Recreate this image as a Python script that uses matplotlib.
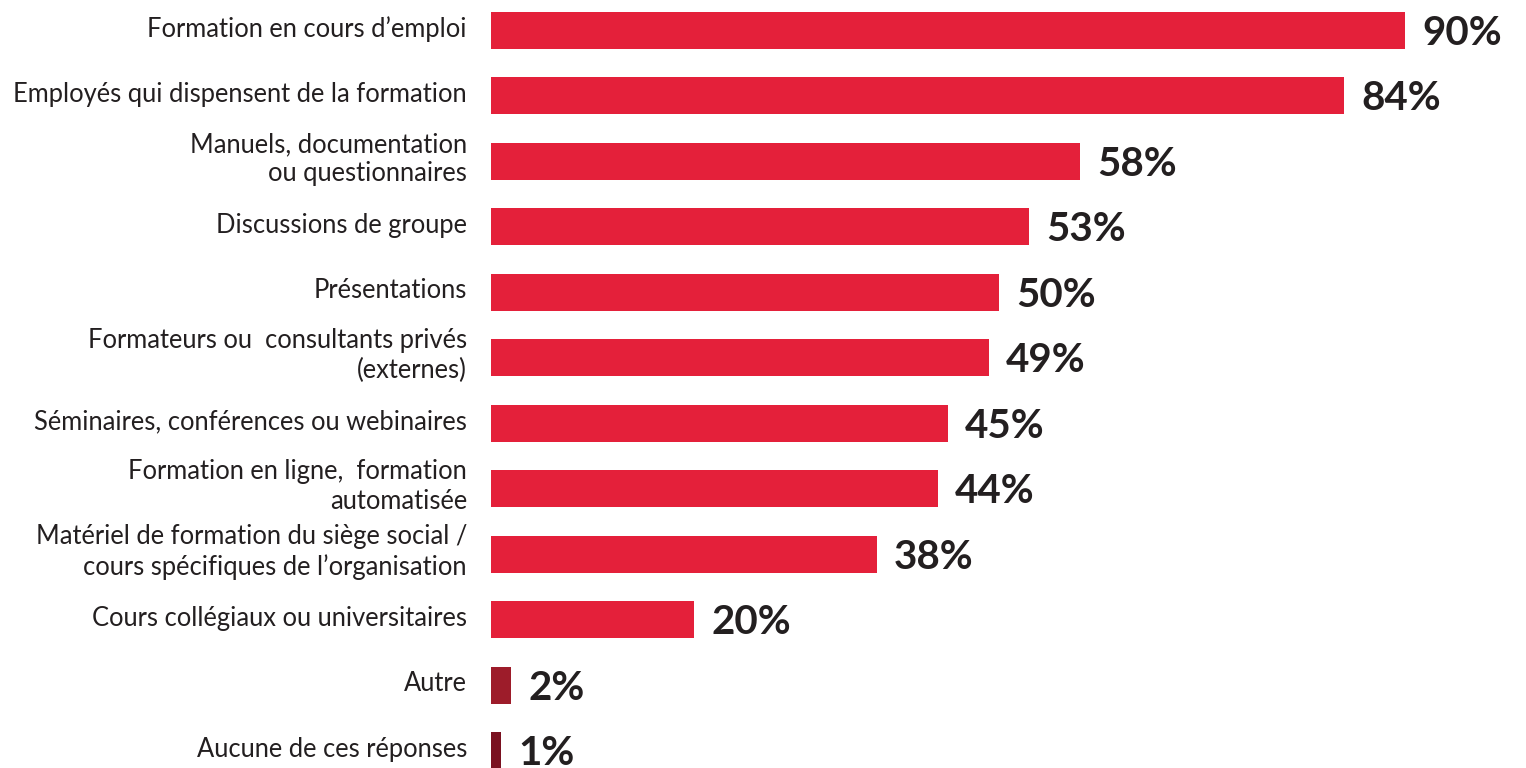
import matplotlib.pyplot as plt

# training methods and share of respondents
categories = [
    "Formation en cours d\u2019emploi",
    "Employés qui dispensent de la formation",
    "Manuels, documentation\nou questionnaires",
    "Discussions de groupe",
    "Présentations",
    "Formateurs ou  consultants privés\n(externes)",
    "Séminaires, conférences ou webinaires",
    "Formation en ligne,  formation\nautomatisée",
    "Matériel de formation du siège social /\ncours spécifiques de l\u2019organisation",
    "Cours collégiaux ou universitaires",
    "Autre",
    "Aucune de ces réponses",
]
values = [90, 84, 58, 53, 50, 49, 45, 44, 38, 20, 2, 1]
colors = ["#E4203A"] * 10 + ["#9D1C2A", "#7A1120"]

W, H = 1526, 768
fig = plt.figure(figsize=(W / 100, H / 100), dpi=100)
left_px = 491
ax = fig.add_axes([left_px / W, 0, 1 - left_px / W, 1])

px_per_unit = 10.16
ax.set_xlim(0, (W - left_px) / px_per_unit)
row_px = 65.5
first_px = 30
ax.set_ylim((H - first_px) / row_px, -first_px / row_px)

ypos = list(range(len(values)))
ax.barh(ypos, values, height=37 / row_px, color=colors, align="center")

for y, cat, v in zip(ypos, categories, values):
    dy = -0.03 if "\n" in cat else -0.02
    ax.text(-24 / px_per_unit, y + dy, cat, ha="right", va="center",
            multialignment="right", fontsize=18.4, family="Lato",
            color="#231F20", linespacing=1.22, clip_on=False)
    ax.text(v + 17 / px_per_unit, y + 0.05, f"{v}%", ha="left", va="center",
            fontsize=29, family="Lato", fontweight="bold", color="#231F20",
            clip_on=False)

ax.axis("off")
fig.savefig("out.png", dpi=100)
